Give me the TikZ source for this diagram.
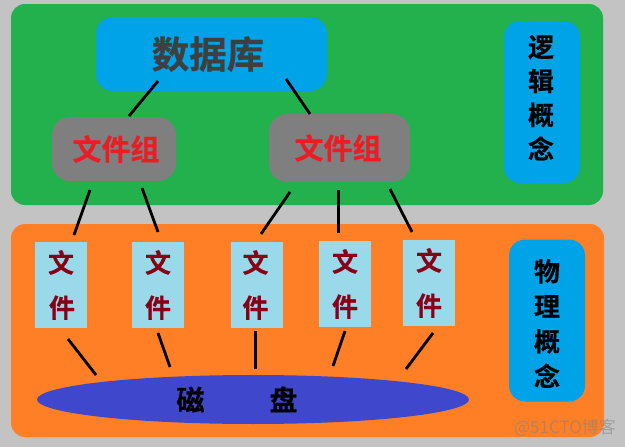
\documentclass[tikz,border=0pt]{standalone}
\usepackage{fontspec}
\usetikzlibrary{shapes.geometric}
\newfontfamily\cjkb{Noto Sans CJK SC Bold}[FakeBold=0.5]
\newfontfamily\cjkm{Noto Sans CJK SC}
\definecolor{bgc}{HTML}{C3C3C3}
\definecolor{greenc}{HTML}{22B14C}
\definecolor{orangec}{HTML}{FF7F27}
\definecolor{bluec}{HTML}{00A2E8}
\definecolor{grayc}{HTML}{7F7F7F}
\definecolor{redc}{HTML}{ED1C24}
\definecolor{darkc}{HTML}{3F3F3F}
\definecolor{filec}{HTML}{99D9EA}
\definecolor{wine}{HTML}{880015}
\definecolor{diskc}{HTML}{3F48CC}
\tikzset{
  panel/.style={fill=#1,rounded corners=14pt,inner sep=0pt,anchor=center},
  dbbox/.style={fill=bluec,rounded corners=17pt,inner sep=0pt,minimum width=231pt,minimum height=74pt,text=darkc,font=\cjkb\fontsize{37.5}{38}\selectfont},
  groupbox/.style={fill=grayc,rounded corners=18pt,inner sep=0pt,text=redc,font=\cjkb\fontsize{29}{30}\selectfont},
  sidebox/.style={fill=bluec,rounded corners=16pt,inner sep=0pt,minimum width=76pt,minimum height=162pt,text=black,align=center,font=\cjkb\fontsize{26}{#1}\selectfont},
  filebox/.style={fill=filec,inner sep=0pt,minimum width=52pt,minimum height=86pt,text=wine,align=center,font=\cjkb\fontsize{26}{45}\selectfont},
  disk/.style={ellipse,fill=diskc,inner sep=0pt,minimum width=432pt,minimum height=49pt,text=black,font=\cjkb\fontsize{28}{30}\selectfont},
  link/.style={draw=black,line width=2.8pt}
}
\begin{document}
\begin{tikzpicture}[x=1pt,y=-1pt]
\useasboundingbox (0,0) rectangle (625,447);
\fill[bgc] (0,0) rectangle (625,447);
\node[panel=greenc,minimum width=592pt,minimum height=201pt] (logic) at (307,104.5) {};
\node[panel=orangec,minimum width=593pt,minimum height=213pt] (phys) at (307.5,330.5) {};
\node[dbbox] (db) at (211.5,54) {\hspace*{-7pt}数据库};
\node[groupbox,minimum width=124pt,minimum height=64pt] (g1) at (114,149) {\hspace*{4pt}文件组};
\node[groupbox,minimum width=141pt,minimum height=68pt] (g2) at (339.5,148) {\hspace*{-3pt}文件组};
\node[sidebox=34] (lbox) at (542,102) {\hspace*{-2pt}逻\\\hspace*{-2pt}辑\\\hspace*{-2pt}概\\\hspace*{-2pt}念\rule[-10pt]{0pt}{1pt}};
\node[sidebox=35] (pbox) at (547,320.5) {\rule{0pt}{28pt}物\\理\\概\\念};
\node[filebox] (f1) at (61,285) {文\\\hspace*{2pt}件};
\node[filebox] (f2) at (158,285) {文\\件};
\node[filebox] (f3) at (257,285) {\hspace*{-3pt}文\\\hspace*{-3pt}件};
\node[filebox] (f4) at (345,284) {文\\件};
\node[filebox] (f5) at (429,283) {文\\件};
\node[disk] (dk) at (253,399.5) {磁\hspace{65pt}盘\hspace*{32pt}};
\node[inner sep=0pt,text=gray,opacity=.55,font=\cjkm\fontsize{17}{18}\selectfont] (wm) at (565,428) {@51CTO博客};
\coordinate (a1) at (158,81);  \coordinate (a2) at (129,116);
\coordinate (b1) at (286,79);  \coordinate (b2) at (310,114);
\coordinate (c1) at (90,190);  \coordinate (c2) at (74,235);
\coordinate (d1) at (142,188); \coordinate (d2) at (158,232);
\coordinate (e1) at (290,192); \coordinate (e2) at (261,234);
\coordinate (h1) at (338.7,190); \coordinate (h2) at (338.7,233);
\coordinate (i1) at (390,189); \coordinate (i2) at (412,232);
\coordinate (j1) at (68,339);  \coordinate (j2) at (96,375);
\coordinate (k1) at (158,333); \coordinate (k2) at (170,367);
\coordinate (l1) at (255.5,331); \coordinate (l2) at (255.5,369);
\coordinate (m1) at (345,331); \coordinate (m2) at (333,366);
\coordinate (n1) at (433,333); \coordinate (n2) at (406,369);
\foreach \p/\q in {a1/a2,b1/b2,c1/c2,d1/d2,e1/e2,h1/h2,i1/i2,j1/j2,k1/k2,l1/l2,m1/m2,n1/n2}
  \draw[link] (\p) -- (\q);
\end{tikzpicture}
\end{document}
